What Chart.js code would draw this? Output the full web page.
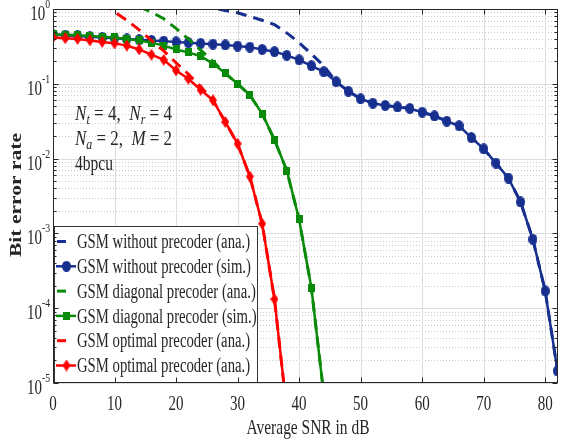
<!DOCTYPE html>
<html>
<head>
<meta charset="utf-8">
<script src="https://cdn.jsdelivr.net/npm/chart.js@4.4.1/dist/chart.umd.min.js"></script>
<style>
  html, body { margin: 0; padding: 0; background: #fff; }
  #wrap { width: 564px; height: 447px; }
</style>
</head>
<body>
<div id="wrap"><canvas id="chart" width="564" height="447"></canvas></div>
<script>
// ---- data (SNR in dB, BER) ----
const snrNoPre = [0,2,4,6,8,10,12,14,16,18,20,22,24,26,28,30,32,34,36,38,40,42,44,46,48,50,52,54,56,58,60,62,64,66,68,70,72,74,76,78,80,82];
const berNoPreSim = [0.457,0.447,0.437,0.427,0.417,0.407,0.398,0.389,0.380,0.372,0.363,0.355,0.347,0.339,0.331,0.320,0.309,0.288,0.269,0.240,0.209,0.174,0.145,0.107,0.0794,0.0631,0.0550,0.0513,0.0490,0.0468,0.0417,0.0372,0.0316,0.0275,0.0191,0.0135,0.00871,0.00550,0.00263,0.000832,0.000170,0.0000145];
const snrNoPreAna = [24,26,28,30,32,34,36,38,40,42,44,46,48,50,52,54,56,58,60,62,64,66,68,70,72,74,76,78,80,82];
const berNoPreAna = [1.12,1.03,0.955,0.891,0.794,0.708,0.617,0.479,0.355,0.251,0.174,0.107,0.0794,0.0631,0.0550,0.0513,0.0490,0.0468,0.0417,0.0372,0.0316,0.0275,0.0191,0.0135,0.00871,0.00550,0.00263,0.000832,0.000170,0.0000145];

const snrDiag = [0,2,4,6,8,10,12,14,16,18,20,22,24,26,28,30,32,34,36,38,40,42,44];
const berDiagSim = [0.457,0.452,0.447,0.437,0.427,0.417,0.398,0.380,0.355,0.324,0.288,0.263,0.234,0.186,0.138,0.100,0.0708,0.0398,0.0178,0.00692,0.00155,0.000186,0.0000072];
const snrDiagAna = [14,16,18,20,22,24,26,28,30,32,34,36,38,40,42,44];
const berDiagAna = [1.07,0.912,0.741,0.550,0.398,0.282,0.200,0.138,0.100,0.0708,0.0398,0.0178,0.00692,0.00155,0.000186,0.0000072];

const snrOpt = [0,2,4,6,8,10,12,14,16,18,20,22,24,26,28,30,32,34,36,38];
const berOptSim = [0.417,0.407,0.398,0.380,0.363,0.347,0.324,0.288,0.245,0.209,0.151,0.117,0.0832,0.0603,0.0309,0.0158,0.00575,0.00135,0.000132,0.0000043];
const snrOptAna = [8,10,12,14,16,18,20,22,24,26,28,30,32,34,36,38];
const berOptAna = [1.2,0.912,0.708,0.525,0.380,0.275,0.191,0.135,0.0912,0.0603,0.0309,0.0158,0.00575,0.00135,0.000132,0.0000043];

const legendLabels = [
  'GSM without precoder (ana.)',
  'GSM without precoder (sim.)',
  'GSM diagonal precoder (ana.)',
  'GSM diagonal precoder (sim.)',
  'GSM optimal precoder (ana.)',
  'GSM optimal precoder (ana.)'
];
const xTicks = [0,10,20,30,40,50,60,70,80];
const yTickExp = [0,-1,-2,-3,-4,-5];

// ---- styling ----
const SERIF = '"Liberation Serif", "Times New Roman", serif';
const TXT = '#262626';
const BLUE = '#17308f', GREEN = '#098a09', RED = '#ff0000';

// small marker bitmaps (figure is a bit squeezed horizontally)
function makeMarker(shape, color, w, h) {
  const c = document.createElement('canvas');
  c.width = w; c.height = h;
  const g = c.getContext('2d');
  g.fillStyle = color;
  g.beginPath();
  if (shape === 'circle') g.ellipse(w / 2, h / 2, w / 2, h / 2, 0, 0, Math.PI * 2);
  else if (shape === 'diamond') { g.moveTo(w / 2, 0); g.lineTo(w, h / 2); g.lineTo(w / 2, h); g.lineTo(0, h / 2); g.closePath(); }
  else g.rect(0, 0, w, h);
  g.fill();
  return c;
}
const mkBlue = makeMarker('circle', BLUE, 9, 11);
const mkGreen = makeMarker('square', GREEN, 7, 8);
const mkRed = makeMarker('diamond', RED, 8, 12);

const pts = (xs, ys) => xs.map((v, i) => ({ x: v, y: ys[i] }));

function anaSet(i, xs, ys, color) {
  return { label: legendLabels[i], data: pts(xs, ys), borderColor: color, backgroundColor: color,
    borderWidth: 3, borderDash: [11, 7], pointRadius: 0, tension: 0, order: 5 - i, marker: null };
}
function simSet(i, xs, ys, color, marker) {
  return { label: legendLabels[i], data: pts(xs, ys), borderColor: color, backgroundColor: color,
    borderWidth: 2.5, pointRadius: 4, pointStyle: marker, tension: 0, order: 5 - i, marker: marker };
}

const datasets = [
  anaSet(0, snrNoPreAna, berNoPreAna, BLUE),
  simSet(1, snrNoPre, berNoPreSim, BLUE, mkBlue),
  anaSet(2, snrDiagAna, berDiagAna, GREEN),
  simSet(3, snrDiag, berDiagSim, GREEN, mkGreen),
  anaSet(4, snrOptAna, berOptAna, RED),
  simSet(5, snrOpt, berOptSim, RED, mkRed)
];

// text helpers
function fitText(ctx, str, x, y, font, sx, align) {
  ctx.save();
  ctx.font = font;
  ctx.translate(x, y);
  ctx.scale(sx, 1);
  ctx.textAlign = align || 'left';
  ctx.fillText(str, 0, 0);
  ctx.restore();
}
function widthText(ctx, str, x, y, font, width, align) {
  ctx.font = font;
  fitText(ctx, str, x, y, font, width / ctx.measureText(str).width, align);
}
function richText(ctx, parts, x, y, width) {
  let total = 0;
  parts.forEach(p => { ctx.font = p[1]; total += ctx.measureText(p[0]).width; });
  ctx.save();
  ctx.translate(x, y);
  ctx.scale(width / total, 1);
  let cx = 0;
  parts.forEach(p => { ctx.font = p[1]; ctx.fillText(p[0], cx, p[2] || 0); cx += ctx.measureText(p[0]).width; });
  ctx.restore();
}
function hline(ctx, x1, x2, y) { ctx.beginPath(); ctx.moveTo(x1, y); ctx.lineTo(x2, y); ctx.stroke(); }
function vline(ctx, x, y1, y2) { ctx.beginPath(); ctx.moveTo(x, y1); ctx.lineTo(x, y2); ctx.stroke(); }

const matlabAxes = {
  id: 'matlabAxes',
  beforeDraw(chart) {
    const ctx = chart.ctx;
    ctx.save();
    ctx.fillStyle = '#fff';
    ctx.fillRect(0, 0, chart.width, chart.height);
    ctx.restore();
  },
  beforeDatasetsDraw(chart) {
    const { ctx, chartArea: a, scales: { x, y } } = chart;
    ctx.save();
    ctx.lineWidth = 1;
    // minor grid (dotted)
    ctx.strokeStyle = '#cccccc';
    ctx.setLineDash([1, 2]);
    for (let e = -5; e < 0; e++) {
      for (let k = 2; k <= 9; k++) {
        const py = Math.round(y.getPixelForValue(k * Math.pow(10, e))) + 0.5;
        hline(ctx, a.left, a.right, py);
      }
    }
    ctx.setLineDash([]);
    ctx.strokeStyle = '#dddddd';
    yTickExp.forEach(e => {
      const py = Math.round(y.getPixelForValue(Math.pow(10, e))) + 0.5;
      hline(ctx, a.left, a.right, py);
    });
    xTicks.forEach(v => {
      const px = Math.round(x.getPixelForValue(v)) + 0.5;
      vline(ctx, px, a.top, a.bottom);
    });
    ctx.restore();
  },
  afterDatasetsDraw(chart) {
    const { ctx, chartArea: a, scales: { x, y } } = chart;
    ctx.save();
    const L = Math.round(a.left) + 0.5, R = Math.round(a.right) - 0.5;
    const T = Math.round(a.top) + 0.5, B = Math.round(a.bottom) - 0.5;

    // legend box (inside, bottom-left)
    const lx1 = 54.5, lx2 = 257.5, ly1 = 226.5;
    ctx.fillStyle = '#fff';
    ctx.fillRect(lx1, ly1, lx2 - lx1, B - ly1);
    ctx.strokeStyle = '#333';
    ctx.lineWidth = 1;
    ctx.strokeRect(lx1, ly1, lx2 - lx1, B - ly1);
    chart.data.datasets.forEach((ds, i) => {
      const cy = 241.5 + 24.8 * i;
      ctx.strokeStyle = ds.borderColor;
      ctx.lineWidth = ds.borderWidth;
      if (ds.marker) {
        hline(ctx, 56, 76, cy);
        ctx.drawImage(ds.marker, 66.5 - ds.marker.width / 2, cy - ds.marker.height / 2);
      } else {
        hline(ctx, 57, 66, cy);
      }
      ctx.fillStyle = TXT;
      fitText(ctx, ds.label, 77, cy + 6.6, '20px ' + SERIF, 0.735, 'left');
    });

    // axes box + inward ticks
    ctx.strokeStyle = '#262626';
    ctx.lineWidth = 1;
    ctx.strokeRect(L, T, R - L, B - T);
    xTicks.forEach(v => {
      const px = Math.round(x.getPixelForValue(v)) + 0.5;
      vline(ctx, px, B, B - 5);
      vline(ctx, px, T, T + 5);
    });
    for (let e = -5; e <= 0; e++) {
      const py = Math.round(y.getPixelForValue(Math.pow(10, e))) + 0.5;
      hline(ctx, L, L + 5, py);
      hline(ctx, R, R - 5, py);
      if (e < 0) {
        for (let k = 2; k <= 9; k++) {
          const my = Math.round(y.getPixelForValue(k * Math.pow(10, e))) + 0.5;
          hline(ctx, L, L + 3, my);
          hline(ctx, R, R - 3, my);
        }
      }
    }

    // parameter annotation
    ctx.fillStyle = TXT;
    const it = 'italic 20px ' + SERIF, sub = 'italic 14px ' + SERIF, rm = '20px ' + SERIF;
    richText(ctx, [['N', it], ['t', sub, 4], [' = 4,  ', rm], ['N', it], ['r', sub, 4], [' = 4', rm]], 75, 120, 97);
    richText(ctx, [['N', it], ['a', sub, 4], [' = 2,  ', rm], ['M', it], [' = 2', rm]], 75, 145, 97);
    widthText(ctx, '4bpcu', 75, 170, rm, 38, 'left');
    ctx.restore();
  },
  afterDraw(chart) {
    const { ctx, chartArea: a, scales: { x, y } } = chart;
    ctx.save();
    ctx.fillStyle = TXT;
    // x tick labels
    xTicks.forEach(v => {
      fitText(ctx, String(v), x.getPixelForValue(v), 410, '20px ' + SERIF, 0.75, 'center');
    });
    // y tick labels 10^e
    yTickExp.forEach(e => {
      const py = y.getPixelForValue(Math.pow(10, e));
      const sup = String(e);
      ctx.font = '13px ' + SERIF;
      const ws = ctx.measureText(sup).width * 0.75;
      fitText(ctx, '10', 50 - ws, py + 11, '20px ' + SERIF, 0.75, 'right');
      fitText(ctx, sup, 50 - ws, py - 1, '13px ' + SERIF, 0.75, 'left');
    });
    // x title
    widthText(ctx, 'Average SNR in dB', 308, 434, '21px ' + SERIF, 123, 'center');
    // y title (rotated, bold)
    ctx.save();
    ctx.translate(21, 195);
    ctx.scale(0.8, 1);
    ctx.rotate(-Math.PI / 2);
    ctx.font = 'bold 21px ' + SERIF;
    const w = ctx.measureText('Bit error rate').width;
    ctx.scale(124 / w, 1);
    ctx.textAlign = 'center';
    ctx.fillText('Bit error rate', 0, 0);
    ctx.restore();
    ctx.restore();
  }
};

new Chart(document.getElementById('chart'), {
  type: 'line',
  data: { datasets: datasets },
  options: {
    responsive: false,
    animation: false,
    events: [],
    layout: { padding: { top: 9, right: 1, left: 0, bottom: 0 } },
    plugins: { legend: { display: false }, tooltip: { enabled: false } },
    scales: {
      x: {
        type: 'linear', min: 0, max: 82,
        ticks: { display: false, stepSize: 10, includeBounds: false },
        grid: { display: false }, border: { display: false },
        afterFit: s => { s.height = 64; }
      },
      y: {
        type: 'logarithmic', min: 1e-5, max: 1,
        ticks: { display: false },
        grid: { display: false }, border: { display: false },
        afterFit: s => { s.width = 53; }
      }
    }
  },
  plugins: [matlabAxes]
});
</script>
</body>
</html>
